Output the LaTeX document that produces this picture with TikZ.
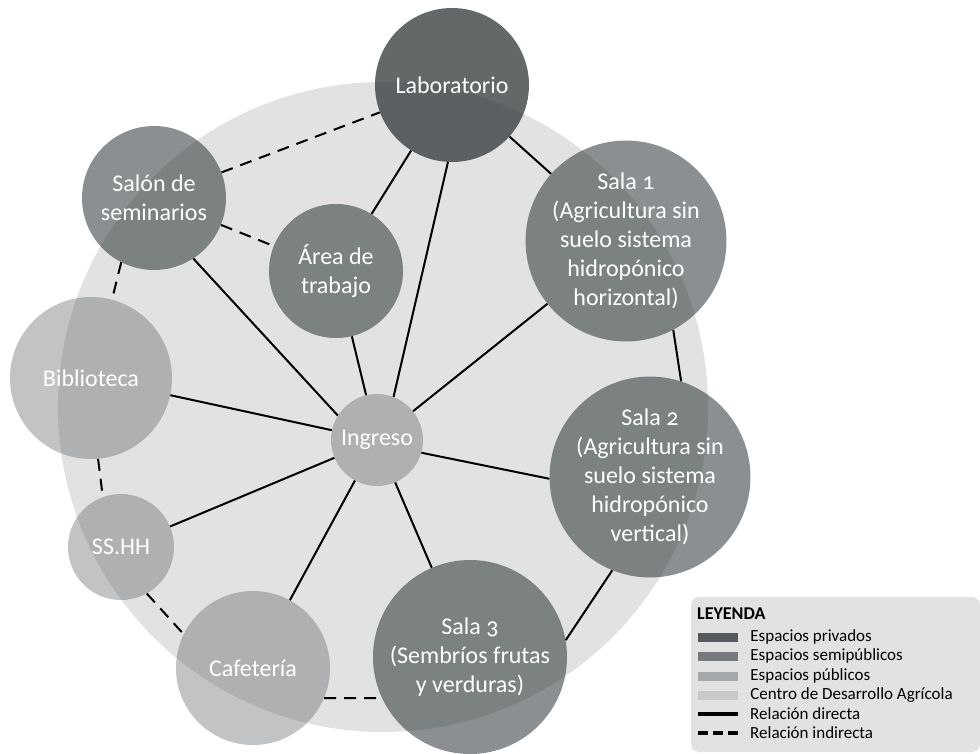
\documentclass[tikz,border=0pt]{standalone}
\usepackage{fontspec}
\setmainfont{Carlito}[Numbers=OldStyle]
\usepackage{xcolor}
\usetikzlibrary{positioning}
\definecolor{grisPrivado}{RGB}{52,58,60}
\definecolor{grisSemi}{RGB}{36,44,47}
\definecolor{grisPublico}{RGB}{87,93,95}
\definecolor{grisCentro}{RGB}{225,226,225}
\definecolor{legPriv}{RGB}{85,89,92}
\definecolor{legSemi}{RGB}{119,122,124}
\definecolor{legPub}{RGB}{165,167,168}
\definecolor{legCentro}{RGB}{200,201,201}
\definecolor{legFondo}{RGB}{226,226,226}
\tikzset{
  espacio/.style={circle, inner sep=0pt, align=center, text=white, text opacity=1, font=\fontsize{24}{29}\selectfont},
  privada/.style={espacio, minimum size=#1, fill=grisPrivado, fill opacity=0.77},
  semipublica/.style={espacio, minimum size=#1, fill=grisSemi, fill opacity=0.53},
  publica/.style={espacio, minimum size=#1, fill=grisPublico, fill opacity=0.37},
  centro/.style={circle, inner sep=0pt, minimum size=650pt, fill=grisCentro},
  directa/.style={line width=2pt},
  indirecta/.style={line width=2pt, dash pattern=on 12pt off 8pt},
  leyendabox/.style={rectangle, rounded corners=8pt, fill=legFondo, minimum width=289pt, minimum height=155pt},
  muestra/.style={rectangle, inner sep=0pt, minimum width=40pt, minimum height=9pt},
  leytexto/.style={inner sep=0pt, anchor=west, font=\fontsize{17}{19}\selectfont},
}

\begin{document}
\begin{tikzpicture}[x=1pt, y=-1pt]
\useasboundingbox (0,0) rectangle (980,753);
\node[centro] (centro) at (383,407) {};

% espacios
\node[privada=154] (lab) at (452,85) {Laboratorio};
\node[semipublica=144] (salon) at (154,198) {Salón de\\seminarios};
\node[semipublica=134] (area) at (336,271) {Área de\\trabajo};
\node[semipublica=194] (sala1) at (626,241) {Sala 1\\(Agricultura sin\\suelo sistema\\hidropónico\\horizontal)};
\node[semipublica=194] (sala2) at (650,477) {Sala 2\\(Agricultura sin\\suelo sistema\\hidropónico\\vertical)};
\node[semipublica=194] (sala3) at (470,657) {Sala 3\\(Sembríos frutas\\y verduras)};
\node[publica=162] (bib) at (91,378) {Biblioteca};
\node[publica=92] (ingreso) at (377,440) {Ingreso};
\node[publica=106] (sshh) at (121,547) {SS.HH};
\node[publica=154] (cafe) at (253,668) {Cafetería};

% relaciones directas
\draw[directa] (ingreso.69) -- (lab.-93);
\draw[directa] (ingreso) -- (area);
\draw[directa] (ingreso.148) -- (salon.-57);
\draw[directa] (ingreso) -- (bib);
\draw[directa] (ingreso) -- (sshh);
\draw[directa] (ingreso) -- (cafe);
\draw[directa] (ingreso) -- (sala3);
\draw[directa] (ingreso.-16) -- (sala2.181);
\draw[directa] (ingreso) -- (sala1);
\draw[directa] (lab) -- (area);
\draw[directa] (lab) -- (sala1);
\draw[directa] (sala1.-62) -- (sala2.72);
\draw[directa] (sala2.248) -- (sala3.10);

% relaciones indirectas
\draw[indirecta] (salon) -- (lab);
\draw[indirecta] (salon) -- (area);
\draw[indirecta] (salon.-117) -- (bib.75);
\draw[indirecta] (bib.-85) -- (sshh.110);
\draw[indirecta] (sshh.-61) -- (cafe.154);
\draw[indirecta] (cafe.-23) -- (sala3.205);

% leyenda
\node[leyendabox] (leyenda) at (835.5,674.5) {};
\node[inner sep=0pt, anchor=west, font=\bfseries\fontsize{18}{20}\selectfont] (leytitulo) at (697,614) {LEYENDA};
\node[muestra, fill=legPriv] (mpriv) at (718,637) {};
\node[muestra, fill=legSemi] (msemi) at (718,656) {};
\node[muestra, fill=legPub] (mpub) at (718,676) {};
\node[muestra, fill=legCentro] (mcentro) at (718,695) {};
\coordinate (ldirA) at (698,714);
\coordinate (ldirB) at (738,714);
\coordinate (lindA) at (698,733);
\coordinate (lindB) at (738,733);
\draw[line width=3.5pt] (ldirA) -- (ldirB);
\draw[line width=3.5pt, dash pattern=on 10pt off 5pt] (lindA) -- (lindB);
\node[leytexto, right=12pt of mpriv] (tpriv) {Espacios privados};
\node[leytexto, right=12pt of msemi] (tsemi) {Espacios semipúblicos};
\node[leytexto, right=12pt of mpub] (tpub) {Espacios públicos};
\node[leytexto, right=12pt of mcentro] (tcentro) {Centro de Desarrollo Agrícola};
\node[leytexto, right=12pt of ldirB] (tdir) {Relación directa};
\node[leytexto, right=12pt of lindB] (tind) {Relación indirecta};
\end{tikzpicture}
\end{document}
